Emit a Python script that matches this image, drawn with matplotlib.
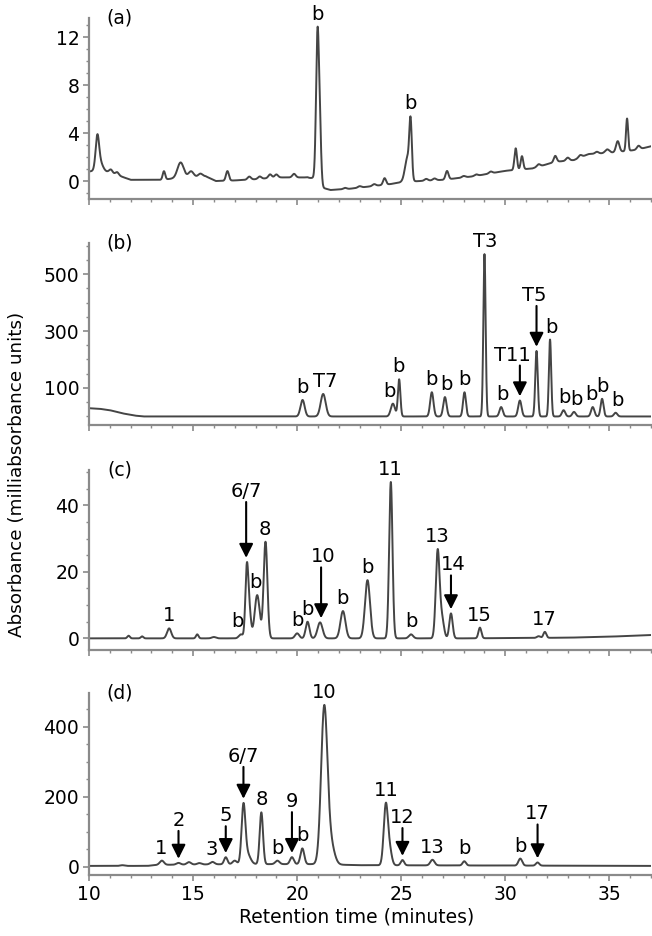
import numpy as np
import matplotlib
matplotlib.use("Agg")
import matplotlib.pyplot as plt
from matplotlib.ticker import MultipleLocator

plt.rcParams["font.family"] = ["DejaVu Sans"]

# ---- panel (a): peaks (retention time, height, width) + baseline drift
a_rt = [10.4, 10.5, 11.05, 11.35, 13.6, 14.4, 14.9, 15.35, 16.65, 17.7, 18.2, 18.7,
        19.0, 19.85, 20.85, 20.98, 21.1, 22.3, 23.0, 23.7, 24.2, 25.3, 25.45,
        26.2, 26.6, 27.2, 28.0, 28.6, 29.3, 30.5, 30.8, 31.6, 32.4, 33.0, 33.6,
        34.4, 34.9, 35.4, 35.85, 36.4]
a_h = [2.4, 0.9, 0.3, 0.25, 0.7, 1.3, 0.5, 0.25, 0.8, 0.25, 0.2, 0.3,
       0.25, 0.3, 0.3, 12.4, 3.5, 0.1, 0.12, 0.15, 0.55, 2.0, 4.5,
       0.15, 0.15, 0.7, 0.12, 0.12, 0.15, 1.8, 1.1, 0.2, 0.5, 0.25, 0.2,
       0.15, 0.3, 0.9, 2.7, 0.3]
a_w = [0.08, 0.15, 0.08, 0.08, 0.06, 0.15, 0.12, 0.1, 0.07, 0.08, 0.08, 0.08,
       0.08, 0.08, 0.15, 0.07, 0.06, 0.08, 0.08, 0.08, 0.07, 0.12, 0.06,
       0.08, 0.08, 0.07, 0.08, 0.08, 0.08, 0.06, 0.06, 0.08, 0.07, 0.08, 0.08,
       0.08, 0.1, 0.08, 0.05, 0.08]
a_base_t = [10.0, 10.9, 11.6, 12.0, 13.5, 14.0, 15.6, 16.1, 17.0, 18.0, 19.0, 20.5,
            21.3, 21.6, 22.5, 23.5, 24.5, 25.0, 25.9, 27.0, 27.6, 28.5, 30.0, 31.3,
            32.4, 33.3, 34.0, 35.0, 36.3, 37.0]
a_base_v = [0.8, 0.75, 0.35, 0.1, 0.1, 0.2, 0.4, 0.0, 0.05, 0.15, 0.3, 0.3,
            -0.6, -0.75, -0.65, -0.45, -0.25, -0.1, 0.0, 0.1, 0.22, 0.4, 0.85, 1.05,
            1.6, 1.75, 2.25, 2.35, 2.6, 2.9]
a_labels = [("b", 20.98), ("b", 25.45)]
a_arrows = []

# ---- panel (b)
b_rt = [20.26, 21.25, 24.6, 24.9, 26.47, 27.1, 28.04, 29.0, 29.8, 30.7, 31.5, 32.15,
        32.8, 33.3, 34.2, 34.65, 35.3]
b_h = [58, 79, 45, 130, 85, 68, 85, 570, 33, 56, 230, 270, 22, 16, 33, 62, 13]
b_w = [0.1, 0.12, 0.1, 0.06, 0.08, 0.08, 0.07, 0.055, 0.08, 0.08, 0.06, 0.055,
       0.08, 0.08, 0.08, 0.07, 0.08]
b_base_t = [10.0, 10.5, 11.0, 11.6, 12.2, 12.6, 37.0]
b_base_v = [29, 27, 22, 11, 3, 0, 0]
b_labels = [("b", 20.25), ("T7", 21.35), ("b", 24.42), ("b", 24.86), ("b", 26.47),
            ("b", 27.15), ("b", 28.03), ("T3", 29.05), ("b", 29.84), ("b", 32.23),
            ("b", 32.84), ("b", 33.4), ("b", 34.12), ("b", 34.65), ("b", 35.37)]
# label, arrow time, label text shift (minutes)
b_arrows = [("T11", 30.7, -0.38), ("T5", 31.5, -0.1)]

# ---- panel (c)
c_rt = [11.9, 12.55, 13.85, 15.2, 16.0, 17.3, 17.58, 17.7, 18.08, 18.48, 20.0, 20.5,
        21.1, 22.2, 23.38, 24.5, 25.47, 26.75, 26.95, 27.39, 28.78, 31.6, 31.9]
c_h = [0.8, 0.6, 3.0, 1.2, 0.4, 1.2, 20, 8, 13, 29, 1.5, 5.0,
       4.8, 8.2, 17.5, 47, 1.2, 26, 6, 7.5, 3.2, 0.5, 1.8]
c_w = [0.06, 0.06, 0.1, 0.06, 0.1, 0.1, 0.07, 0.08, 0.12, 0.09, 0.1, 0.09,
       0.12, 0.12, 0.12, 0.08, 0.1, 0.09, 0.1, 0.08, 0.07, 0.08, 0.07]
c_base_t = [10.0, 28.0, 33.0, 35.0, 37.0]
c_base_v = [0.0, 0.0, 0.2, 0.5, 1.0]
c_labels = [("1", 13.85), ("b", 17.13), ("b", 18.01), ("8", 18.45), ("b", 20.02),
            ("b", 20.5), ("b", 22.18), ("b", 23.38), ("11", 24.47), ("b", 25.47),
            ("13", 26.75), ("15", 28.75), ("17", 31.88)]
c_arrows = [("6/7", 17.55, 0.0), ("10", 21.15, 0.1), ("14", 27.39, 0.1)]

# ---- panel (d)
d_rt = [11.6, 13.5, 14.3, 14.8, 15.3, 15.93, 16.57, 17.0, 17.42, 17.6, 18.28, 19.05,
        19.75, 20.25, 21.3, 21.6, 24.26, 24.45, 25.06, 26.5, 28.03, 30.72, 31.55]
d_h = [2, 12, 5, 7, 4, 7, 20, 10, 160, 30, 148, 10,
       20, 45, 440, 60, 172, 40, 15, 16, 12, 20, 9]
d_w = [0.1, 0.1, 0.1, 0.1, 0.1, 0.1, 0.08, 0.1, 0.09, 0.15, 0.08, 0.1,
       0.09, 0.09, 0.15, 0.18, 0.1, 0.1, 0.08, 0.1, 0.08, 0.09, 0.08]
d_base_t = [10.0, 12.8, 13.3, 17.0, 21.0, 23.0, 37.0]
d_base_v = [3, 3, 6, 8, 8, 5, 3]
d_labels = [("1", 13.48), ("3", 15.88), ("8", 18.28), ("b", 19.05), ("b", 20.26),
            ("10", 21.3), ("11", 24.26), ("13", 26.5), ("b", 28.03), ("b", 30.72)]
d_arrows = [("2", 14.3, 0.0), ("5", 16.57, 0.0), ("6/7", 17.42, 0.0), ("9", 19.75, 0.0),
            ("12", 25.06, 0.0), ("17", 31.55, 0.0)]

# arrow lengths in pixels, same order as the *_arrows lists
arrow_px = [[], [35, 45], [60, 55, 38], [32, 31, 36, 45, 32, 38]]

panels = [
    ("(a)", a_rt, a_h, a_w, a_base_t, a_base_v, a_labels, a_arrows,
     (-1.5, 13.6), [0, 4, 8, 12], 1),
    ("(b)", b_rt, b_h, b_w, b_base_t, b_base_v, b_labels, b_arrows,
     (-30, 609), [100, 300, 500], 50),
    ("(c)", c_rt, c_h, c_w, c_base_t, c_base_v, c_labels, c_arrows,
     (-3.5, 50.6), [0, 20, 40], 5),
    ("(d)", d_rt, d_h, d_w, d_base_t, d_base_v, d_labels, d_arrows,
     (-23, 497), [0, 200, 400], 50),
]

# axes boxes in pixels (top, bottom) of a 652x936 figure
boxes = [(18, 199), (243, 425), (470, 650), (693, 875)]
W, H = 652, 936
PX = 72 / 100  # points per pixel
FS = 13.5

t = np.arange(10, 37.001, 0.005)

fig = plt.figure(figsize=(6.52, 9.36), dpi=100)
spine_col = "#8a8a8a"
trace_col = "#454545"

for i, (name, rt, hh, ww, bt, bv, labels, arrows, ylim, yt, ymin) in enumerate(panels):
    top, bot = boxes[i]
    ax = fig.add_axes([89 / W, 1 - bot / H, 562 / W, (bot - top) / H])
    y = np.interp(t, bt, bv)
    for r, h, w in zip(rt, hh, ww):
        y = y + h * np.exp(-0.5 * ((t - r) / w) ** 2)
    ax.plot(t, y, color=trace_col, lw=1.4)

    ax.set_xlim(10, 37)
    ax.set_ylim(*ylim)
    ax.set_yticks(yt)
    ax.yaxis.set_minor_locator(MultipleLocator(ymin))
    ax.xaxis.set_major_locator(MultipleLocator(5))
    ax.xaxis.set_minor_locator(MultipleLocator(1))
    for s in ["top", "right"]:
        ax.spines[s].set_visible(False)
    for s in ["left", "bottom"]:
        ax.spines[s].set_color(spine_col)
        ax.spines[s].set_linewidth(1.6)
    ax.tick_params(which="major", direction="out", length=4, width=1.2,
                   color=spine_col, labelsize=FS, pad=3)
    ax.tick_params(which="minor", direction="out", length=2, width=1,
                   color=spine_col)
    if i < 3:
        ax.tick_params(axis="x", labelbottom=False)

    ax.text(0.055, 1.0, name, transform=ax.transAxes, fontsize=FS,
            ha="center", va="center")

    def peak_top(x0):
        m = (t > x0 - 0.2) & (t < x0 + 0.2)
        return y[m].max()

    for txt, x0 in labels:
        ax.annotate(txt, xy=(x0, peak_top(x0)), xytext=(0, 3 * PX),
                    textcoords="offset points", ha="center", va="bottom",
                    fontsize=14)
    for (txt, x0, dx), gap in zip(arrows, arrow_px[i]):
        yp = peak_top(x0)
        ax.annotate("", xy=(x0, yp), xytext=(0, gap * PX),
                    textcoords="offset points",
                    arrowprops=dict(arrowstyle="-|>,head_length=0.7,head_width=0.35",
                                    color="black", lw=1.5, shrinkA=0, shrinkB=3,
                                    mutation_scale=12))
        ax.annotate(txt, xy=(x0 + dx, yp), xytext=(0, (gap + 1) * PX),
                    textcoords="offset points", ha="center", va="bottom",
                    fontsize=14)

fig.text(357 / W, 1 - 917 / H, "Retention time (minutes)", fontsize=FS,
         ha="center", va="center")
fig.text(17 / W, 1 - 474 / H, "Absorbance (milliabsorbance units)", fontsize=13.2,
         ha="center", va="center", rotation=90)

fig.savefig("out.png", dpi=100)
